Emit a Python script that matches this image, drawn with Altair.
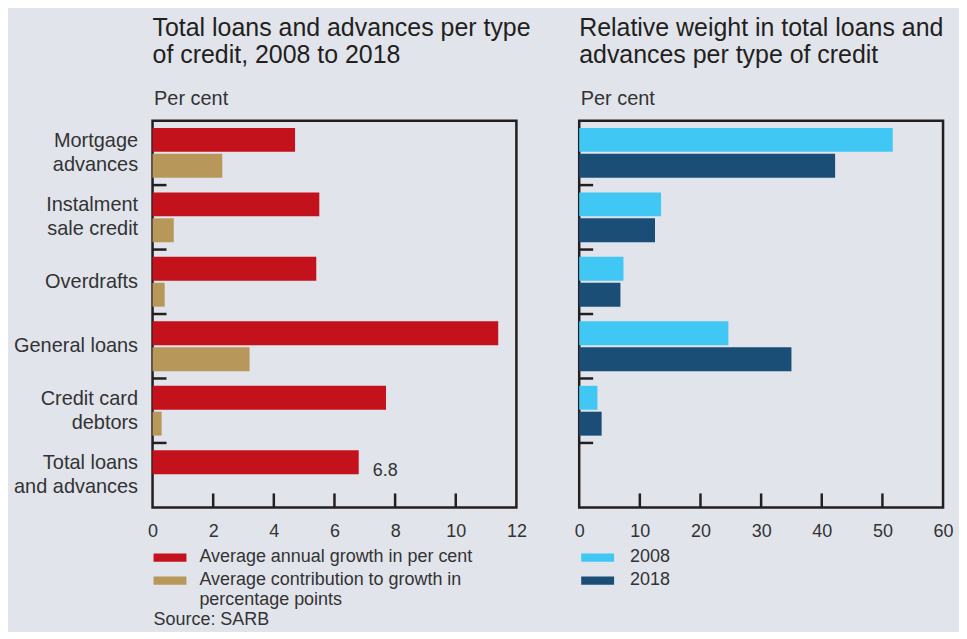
import altair as alt
import pandas as pd

# ---------------- data ----------------
categories = ["Mortgage\nadvances", "Instalment\nsale credit", "Overdrafts",
              "General loans", "Credit card\ndebtors", "Total loans\nand advances"]
growth = [4.7, 5.5, 5.4, 11.4, 7.7, 6.8]            # average annual growth, per cent
contribution = [2.3, 0.7, 0.4, 3.2, 0.3, None]      # contribution to growth, pp
weight_2008 = [51.7, 13.5, 7.3, 24.6, 3.0, None]    # relative weight, per cent
weight_2018 = [42.2, 12.5, 6.8, 35.0, 3.7, None]

left_series = ["Average annual growth in per cent",
               "Average contribution to growth in\npercentage points"]
right_series = ["2008", "2018"]
left_ticks = [0, 2, 4, 6, 8, 10, 12]
right_ticks = [0, 10, 20, 30, 40, 50, 60]
total_label = ["6.8"]
source_text = ["Source: SARB"]
left_title = ["Total loans and advances per type", "of credit, 2008 to 2018"]
right_title = ["Relative weight in total loans and", "advances per type of credit"]
unit_label = "Per cent"

# ---------------- styles ----------------
FONT = "Liberation Sans"
W, H = 365, 388
BAR_H = 24
BAR_SHIFT = [-13, 13]          # pixel shift of the 1st / 2nd bar from band centre
BG = "#e1e4eb"
INK = "#231f20"
TXT = "#333333"
RED, TAN = "#c3121b", "#b8985a"
LBLUE, DBLUE = "#41c7f3", "#1b4e77"

rows_l = []
for c, g, k in zip(categories, growth, contribution):
    rows_l.append({"category": c, "series": left_series[0], "value": g})
    if k is not None:
        rows_l.append({"category": c, "series": left_series[1], "value": k})
df_left = pd.DataFrame(rows_l)

rows_r = []
for c, a, b in zip(categories, weight_2008, weight_2018):
    if a is not None:
        rows_r.append({"category": c, "series": right_series[0], "value": a})
    if b is not None:
        rows_r.append({"category": c, "series": right_series[1], "value": b})
df_right = pd.DataFrame(rows_r)

df_lab = pd.DataFrame({"category": [categories[-1]], "value": [growth[-1]],
                       "label": total_label})
df_bounds = pd.DataFrame({"category": categories[:-1]})
df_src = pd.DataFrame({"t": source_text})

two_line = {"condition": {"test": "indexof(datum.value, '\\n') >= 0", "value": -12},
            "value": 0}


def y_axis(show_labels):
    return alt.Axis(title=unit_label, titleAngle=0, titleAlign="left",
                    titleBaseline="alphabetic", titleX=1, titleY=-16,
                    titleFontSize=20, titleFontWeight="normal", titleColor=TXT,
                    titleFont=FONT, labels=show_labels,
                    labelExpr="split(datum.label, '\\n')", labelFontSize=20,
                    labelLineHeight=24, labelPadding=15, labelColor=TXT,
                    labelOffset=two_line,
                    labelFont=FONT, labelLimit=400, ticks=False, domain=False,
                    grid=False)


def x_axis(vals):
    return alt.Axis(values=vals, title=None, ticks=False, tickSize=0,
                    domain=False, grid=False, labelFontSize=18, labelPadding=15,
                    labelColor=TXT, labelFont=FONT, labelFlush=False,
                    labelOverlap=False)


def legend(x, y, offset):
    return alt.Legend(title=None, orient="none", legendX=x, legendY=y,
                      direction="vertical", symbolType="M-1,-0.5H1V0H-1Z",
                      symbolSize=1089, symbolStrokeWidth=0, symbolOpacity=1,
                      labelFontSize=18, labelColor=TXT, labelFont=FONT,
                      labelOffset=offset, labelBaseline="alphabetic",
                      labelExpr="split(datum.label, '\\n')", rowPadding=2,
                      padding=0, labelLimit=500)


def panel(df, series, colors, xmax, ticks, show_labels, leg_x, leg_offset):
    y_sc = alt.Scale(type="band", domain=categories, paddingInner=0, paddingOuter=0)
    x_sc = alt.Scale(domain=[0, xmax], nice=False, zero=True)
    yax = y_axis(show_labels)
    xax = x_axis(ticks)
    Y = alt.Y("category:N", sort=categories, scale=y_sc, axis=yax)
    X = alt.X("value:Q", scale=x_sc, axis=xax)
    C = alt.Color("series:N", sort=series,
                  scale=alt.Scale(domain=series, range=colors),
                  legend=legend(leg_x, 426, leg_offset))
    layers = []
    for s, shift in zip(series, BAR_SHIFT):
        layers.append(
            alt.Chart(df).transform_filter(alt.datum.series == s)
            .mark_bar(height=BAR_H, yOffset=shift)
            .encode(x=X, y=Y, color=C)
        )
    bticks = alt.Chart(df_bounds).mark_rule(color=INK, strokeWidth=2.5).encode(
        y=alt.Y("category:N", sort=categories, scale=y_sc, axis=yax, bandPosition=1),
        x=alt.value(0), x2=alt.value(14),
    )
    xticks = alt.Chart(pd.DataFrame({"value": ticks[1:-1]})).mark_rule(
        color=INK, strokeWidth=2.5).encode(
        x=X, y=alt.value(H - 14), y2=alt.value(H),
    )
    return layers + [bticks, xticks], X, Y


l_layers, lX, lY = panel(df_left, left_series, [RED, TAN], 12, left_ticks,
                         True, 1, 13)
lab = alt.Chart(df_lab).mark_text(align="left", baseline="middle", dx=14,
                                  yOffset=BAR_SHIFT[0] + 9, fontSize=18,
                                  color=TXT, font=FONT).encode(
    x=lX, y=lY, text="label:N")
src = alt.Chart(df_src).mark_text(align="left", baseline="alphabetic",
                                  fontSize=18, color=TXT, font=FONT).encode(
    x=alt.value(1), y=alt.value(506), text="t:N")

title_kw = dict(anchor="start", frame="group", fontSize=25, fontWeight="normal",
                color=INK, font=FONT, lineHeight=27, offset=21)

left = alt.layer(*l_layers, lab, src).properties(
    width=W, height=H, title=alt.Title(left_title, **title_kw))

r_layers, rX, rY = panel(df_right, right_series, [LBLUE, DBLUE], 60,
                         right_ticks, False, 2, 16)
right = alt.layer(*r_layers).properties(
    width=W, height=H, title=alt.Title(right_title, **title_kw))

chart = alt.hconcat(left, right, spacing=63, bounds="flush").resolve_scale(
    x="independent", color="independent"
).configure(
    background=BG, font=FONT,
    padding={"left": 4, "top": 5, "right": 4, "bottom": 0},
).configure_view(stroke=INK, strokeWidth=2.5)

chart.save("out.html", embed_options={"renderer": "svg", "actions": False})
